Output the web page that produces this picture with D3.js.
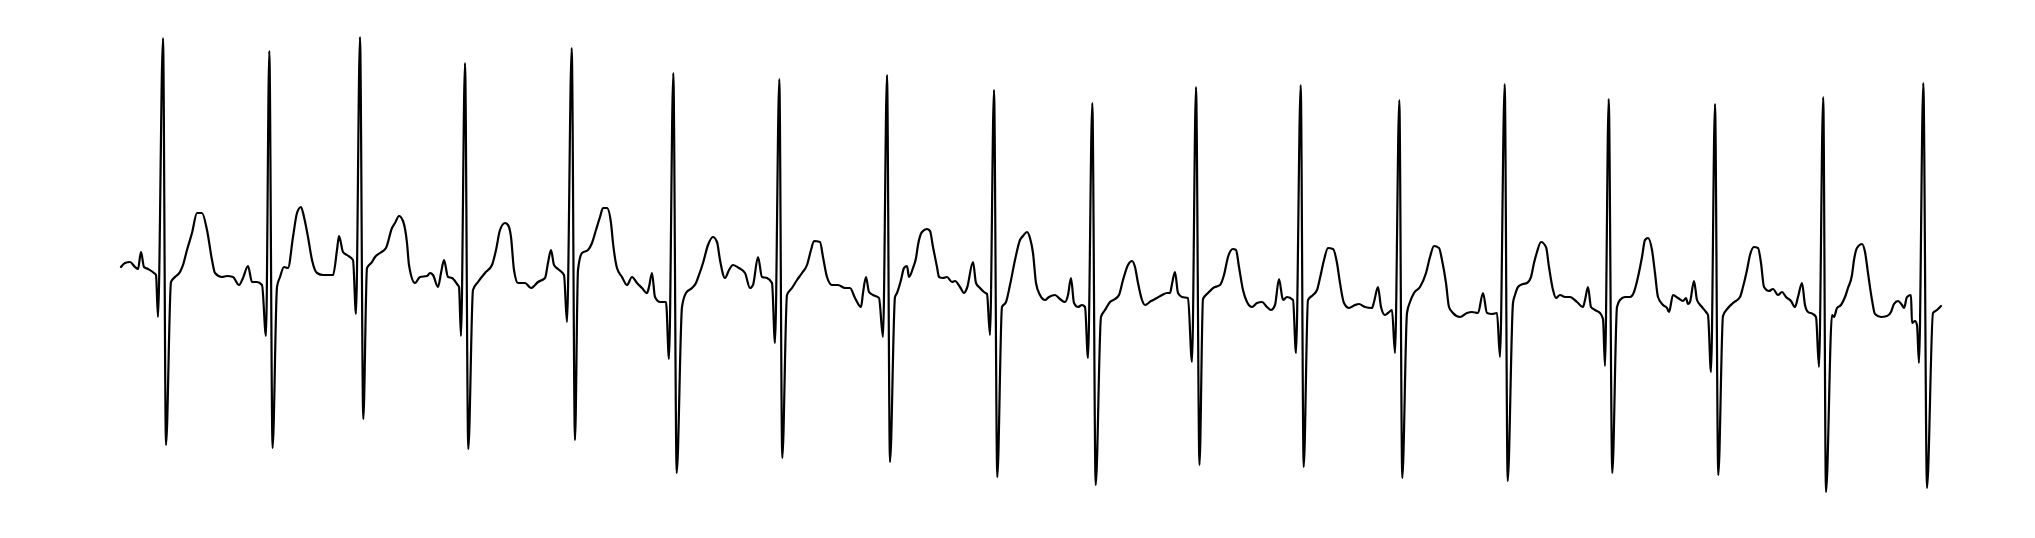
<!DOCTYPE html>
<html>
<head>
<meta charset="utf-8">
<script src="https://cdn.jsdelivr.net/npm/d3@7/dist/d3.min.js"></script>
<style>
  html, body { margin: 0; padding: 0; background: #ffffff; }
  svg { display: block; }
</style>
</head>
<body>
<svg id="chart"></svg>
<script>
// ECG trace: [sample index, amplitude (ADC units)]
const segmentA = [
  [0,13],[4,17],[9,18],[14,13],[17,11],[20,28],[23,13],[27,11],[33,7],[35,5],[37,-37],[42,242],[45,-165],
  [50,-2],[54,3],[59,8],[62,15],[66,30],[71,47],[76,67],[81,67],[86,50],[91,20],[94,7],[101,3],[106,4],[112,3],
  [118,-5],[122,2],[127,14],[131,-2],[136,-2],[141,-5],[145,-56],[148.3,229],[151.6,-168],
  [156,-7],[159,3],[163,13],[167,12],[172,43],[176,67],[180,73],[183,63],[187,43],[191,20],[196,7],[202,5],[212,5],
  [216,30],[218,44],[222,28],[226,25],[232,20],[235,-34],[239,243],[242.3,-139],
  [246,12],[251,18],[254,23],[259,27],[265,32],[271,52],[274,57],[278,64],[282,59],[286,37],[288,15],[294,-3],
  [299,3],[306,4],[309,7],[312,5],[317,-7],[320,7],[323,20],[327,3],[331,2],[336,-4],[338,-7],[340,-56],[344,217],[347.3,-169]
];
const segmentB = [
  [352,-10],[357,-2],[364,7],[371,15],[375,30],[379,50],[384,57],[387,55],[390,43],[393,10],[397,-3],[404,-3],
  [410,-8],[417,-2],[424,2],[427,17],[430,30],[433,15],[437,11],[443,5],[446,-42],[450.7,232],[454,-160],
  [457,10],[461,27],[467,30],[471,37],[475,50],[479,63],[482,72],[486,72],[490,57],[492,37],[496,12],[501,3],
  [506,-5],[511,3],[516,-3],[521,-8],[526,-13],[528,-7],[531,7],[534,-17],[539,-22],[545,-22],[548,-79],[552.3,207],[555.7,-193],
  [561,-27],[565,-13],[571,-8],[575,-3],[578,5],[582,17],[587,35],[592,43],[596,38],[599,20],[604,2],[608,10],[612,15],
  [618,12],[624,7],[629,-8],[632,-5],[637,23],[641,3],[646,2],[651,-3],[654,-63],[658.3,201],[661.3,-178],
  [666,-15],[671,-8],[676,0],[681,7],[686,15],[690,30],[693,39],[699,38],[702,23],[706,3],[711,-5],[717,-5],
  [724,-8],[729,-8],[734,-18],[740,-27],[742,-13],[745,3],[748,-12],[752,-15],[758,-18],[762,-57],[766,205],[769,-182]
];
const segmentC = [
  [774,-17],[776,-13],[780,0],[783,12],[786,14],[788,3],[792,12],[795,22],[797,35],[801,48],[806,51],[809,49],
  [812,33],[816,13],[818,3],[822,2],[826,3],[831,-2],[834,-1],[839,-7],[843,-13],[846,-8],[852,18],[855,-3],
  [859,-8],[863,-12],[866,-14],[869,-55],[873,190],[876.3,-197],
  [881,-27],[885,-22],[889,-5],[894,20],[899,40],[902,44],[906,48],[909,42],[912,27],[915,-3],[919,-15],[924,-20],
  [928,-17],[934,-15],[939,-19],[944,-22],[947,-15],[950,2],[953,-23],[957,-27],[961,-25],[964,-27],[967,-78],[971.3,177],[974.7,-205],
  [980,-37],[984,-30],[989,-22],[994,-19],[998,-15],[1002,0],[1007,15],[1011,19],[1014,13],[1017,-3],[1021,-20],
  [1024,-25],[1030,-21],[1036,-18],[1041,-15],[1046,-13],[1049,-13],[1051,-4],[1054,8],[1057,-13],[1061,-17],
  [1067,-18],[1071,-82],[1075,193],[1078.5,-185],
  [1082,-19],[1087,-13],[1092,-8],[1099,-5],[1103,5],[1107,23],[1112,31],[1115,30],[1118,13],[1122,-10],[1126,-22],
  [1131,-27],[1136,-23],[1141,-22],[1146,-27],[1150,-30],[1154,-25],[1158,1],[1162,-20],[1166,-17],[1172,-20],
  [1175,-73],[1179.7,195],[1182.7,-187]
];
const segmentD = [
  [1187,-20],[1192,-15],[1196,-10],[1199,2],[1203,20],[1207,32],[1212,31],[1216,17],[1219,-3],[1223,-23],[1228,-28],
  [1234,-25],[1238,-24],[1244,-27],[1251,-28],[1253,-22],[1257,-7],[1260,-27],[1264,-35],[1267,-33],[1271,-30],
  [1274,-73],[1278.3,180],[1281.3,-198],
  [1286,-33],[1289,-22],[1293,-13],[1299,-7],[1305,7],[1309,23],[1313,34],[1318,32],[1321,20],[1325,-3],[1328,-27],
  [1332,-33],[1339,-37],[1346,-33],[1351,-32],[1357,-33],[1362,-13],[1366,-33],[1371,-34],[1376,-33],[1379,-77],
  [1383.7,196],[1386.7,-201],
  [1392,-23],[1394,-15],[1397,-7],[1402,-4],[1406,-3],[1410,3],[1413,17],[1416,28],[1420,38],[1425,33],[1428,13],
  [1432,-10],[1435,-18],[1439,-15],[1444,-17],[1449,-17],[1456,-22],[1462,-27],[1464,-20],[1467,-7],[1470,-27],
  [1474,-30],[1479,-33],[1482,-39],[1484,-86],[1487.7,181],[1491.3,-193]
];
const segmentE = [
  [1496,-27],[1499,-20],[1504,-17],[1509,-17],[1513,-12],[1517,3],[1521,23],[1524,40],[1527,42],[1531,30],[1534,7],
  [1537,-17],[1542,-25],[1546,-28],[1548,-32],[1552,-15],[1557,-18],[1562,-21],[1565,-18],[1567,-24],[1569,-22],
  [1573,-1],[1576,-20],[1581,-27],[1585,-32],[1587,-35],[1590,-92],[1594,176],[1597.3,-195],
  [1602,-36],[1607,-28],[1612,-23],[1619,-17],[1622,-7],[1626,10],[1629,25],[1633,33],[1637,32],[1640,17],[1643,-7],
  [1648,-11],[1652,-9],[1657,-15],[1661,-12],[1665,-17],[1670,-21],[1674,-27],[1677,-17],[1681,-3],[1684,-25],
  [1687,-32],[1692,-34],[1695,-37],[1698,-87],[1702.2,183],[1705,-212],
  [1711,-35],[1713,-37],[1716,-28],[1720,-25],[1724,-17],[1727,-8],[1731,5],[1733,20],[1736,32],[1741,36],[1744,28],
  [1747,7],[1751,-20],[1754,-34],[1760,-37],[1766,-36],[1770,-32],[1773,-24],[1777,-21],[1781,-25],[1783,-28],
  [1786,-17],[1790,-15],[1791,-43],[1794,-41],[1796,-45],[1798,-83],[1802.3,197],[1806,-208],
  [1812,-33],[1816,-30],[1820,-26]
];

const W = 2035, H = 538;
const data = [].concat(segmentA, segmentB, segmentC, segmentD, segmentE);

const svg = d3.select("#chart").attr("width", W).attr("height", H);
svg.append("rect").attr("width", W).attr("height", H).attr("fill", "#ffffff");

const x = d3.scaleLinear().domain([-121, 1914]).range([0, W]);
const y = d3.scaleLinear().domain([-258, 280]).range([H, 0]);

const line = d3.line()
  .x(d => x(d[0]))
  .y(d => y(d[1]))
  .curve(d3.curveMonotoneX);

svg.append("path")
  .datum(data)
  .attr("d", line)
  .attr("fill", "none")
  .attr("stroke", "#000000")
  .attr("stroke-width", 2.2)
  .attr("stroke-linejoin", "round")
  .attr("stroke-linecap", "round");
</script>
</body>
</html>
